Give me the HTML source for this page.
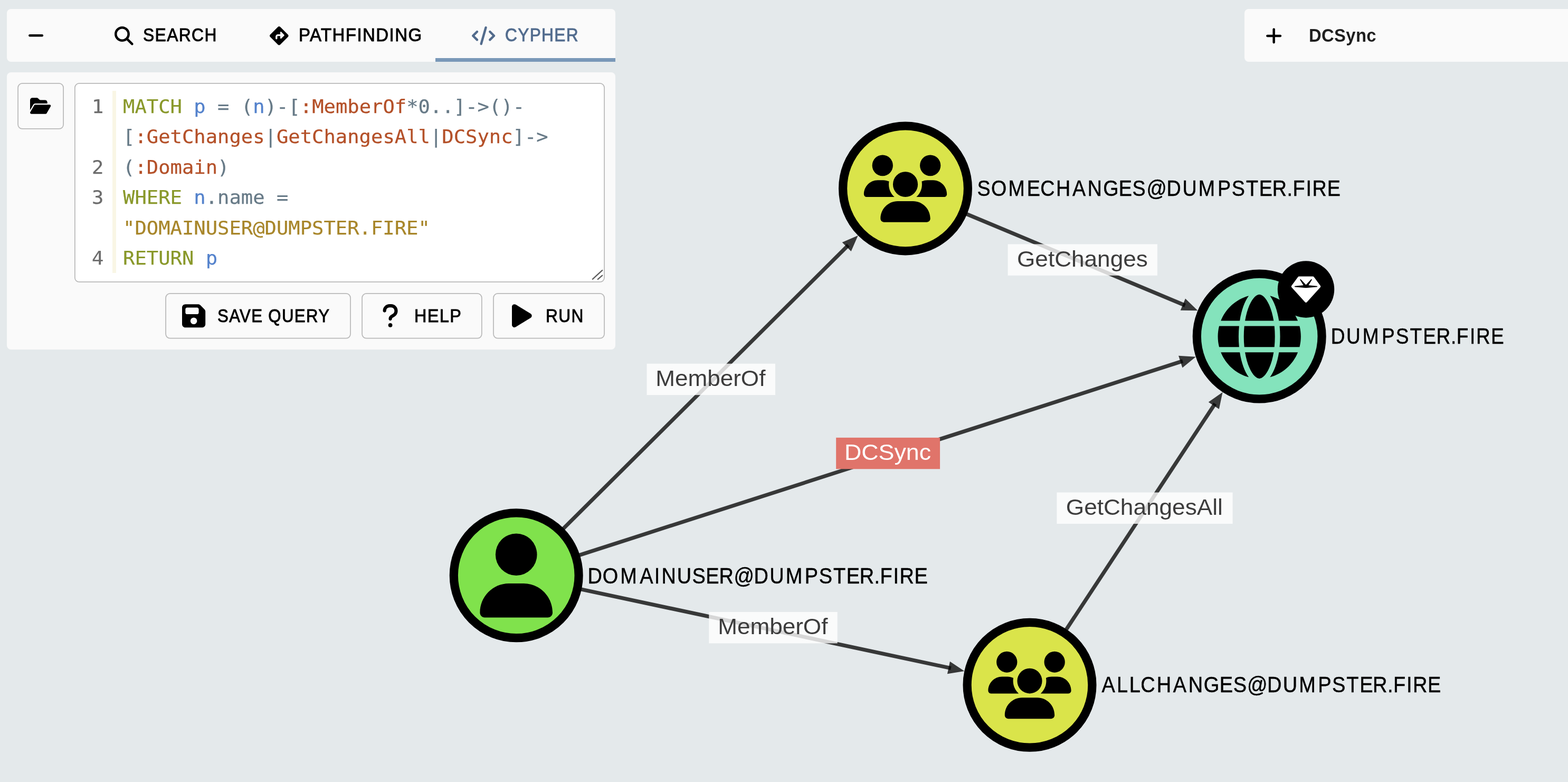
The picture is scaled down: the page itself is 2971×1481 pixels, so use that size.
<!DOCTYPE html>
<html lang="en">
<head>
<meta charset="utf-8">
<title>BloodHound - Explore</title>
<style>
*{box-sizing:border-box;margin:0;padding:0}
html,body{width:2971px;height:1481px;overflow:hidden;background:#e4e9eb}
body{position:relative;font-family:"Liberation Sans",Arial,sans-serif;color:#000}
#app{position:absolute;left:0;top:0;width:2971px;height:1481px;overflow:hidden;will-change:transform}
#graph{position:absolute;left:0;top:0}
#graph text.el{font-family:"Liberation Sans",Arial,sans-serif;font-size:42.2px}
#graph text.nl{font-family:"Liberation Sans",Arial,sans-serif;font-size:42.0px;fill:#000;stroke:#000;stroke-width:0.5px}
.panel{position:absolute;background:#fafafa;border-radius:8px}
.ic{position:absolute;display:block;overflow:visible}
#tabs{left:13px;top:17px;width:1153px;height:100px}
#indicator{position:absolute;left:825px;top:109.9px;width:341px;height:7.1px;background:#7998b8}
#query{left:13px;top:137px;width:1153px;height:525px}
#right{left:2358px;top:17px;width:640px;height:100px}
.btn,.edbox{position:absolute;border-radius:9px}
#chrome{position:absolute;left:0;top:0}
#strip{position:absolute;left:213.1px;top:172.0px;width:6.8px;height:344.8px;background:#f9f6e5}
.ln,.cl{position:absolute;height:57px;line-height:57px;font-family:"DejaVu Sans Mono","Liberation Mono",monospace;font-size:35.3px;white-space:pre;transform:scaleX(1.0531);-webkit-text-stroke:0.25px currentColor}
.ln{left:174.40px;color:#6c6c6c;transform-origin:0 50%}
.cl{left:233.10px;color:#677a87;transform-origin:0 50%}
.tk{color:#89982a}.tv{color:#5482cc}.tp{color:#677a87}.tl{color:#b45028}.ts{color:#a8862a}
.lbl{position:absolute;white-space:pre;font-size:34.8px;line-height:40px;height:40px;transform-origin:0 50%;letter-spacing:1.5px;-webkit-text-stroke:0.95px currentColor}
.bold{font-weight:700;-webkit-text-stroke:0;letter-spacing:0.4px}
</style>
</head>
<body>
<div id="app">
<svg id="graph" width="2971" height="1481" viewBox="0 0 2971 1481">
<g id="edges">
<line x1="978.20" y1="1089.80" x2="1607.34" y2="464.41" stroke="rgba(0,0,0,0.76)" stroke-width="7.2"/>
<polygon fill="rgba(0,0,0,0.76)" points="1625.78,446.08 1612.61,476.09 1595.69,459.07"/>
<line x1="1715.50" y1="356.90" x2="2245.49" y2="578.31" stroke="rgba(0,0,0,0.76)" stroke-width="7.2"/>
<polygon fill="rgba(0,0,0,0.76)" points="2269.48,588.34 2236.71,587.65 2245.96,565.51"/>
<line x1="978.20" y1="1089.80" x2="2241.02" y2="683.78" stroke="rgba(0,0,0,0.76)" stroke-width="7.2"/>
<polygon fill="rgba(0,0,0,0.76)" points="2265.77,675.82 2240.41,696.58 2233.06,673.73"/>
<line x1="978.20" y1="1089.80" x2="1801.86" y2="1265.49" stroke="rgba(0,0,0,0.76)" stroke-width="7.2"/>
<polygon fill="rgba(0,0,0,0.76)" points="1827.28,1270.91 1794.95,1276.28 1799.96,1252.81"/>
<line x1="1951.00" y1="1297.30" x2="2302.27" y2="764.43" stroke="rgba(0,0,0,0.76)" stroke-width="7.2"/>
<polygon fill="rgba(0,0,0,0.76)" points="2316.58,742.72 2309.81,774.79 2289.77,761.58"/>
</g>
<rect x="1225.55" y="688.75" width="243.40" height="59.4" fill="rgba(255,255,255,0.8)"/>
<text class="el" x="1242.20" y="731.20" textLength="208.21" lengthAdjust="spacingAndGlyphs" fill="#3c3c3c">MemberOf</text>
<rect x="1909.60" y="462.40" width="283.30" height="59.4" fill="rgba(255,255,255,0.8)"/>
<text class="el" x="1927.00" y="504.85" textLength="247.83" lengthAdjust="spacingAndGlyphs" fill="#3c3c3c">GetChanges</text>
<rect x="1584.15" y="828.85" width="196.90" height="59.4" fill="#e0746a"/>
<text class="el" x="1600.00" y="871.30" textLength="164.08" lengthAdjust="spacingAndGlyphs" fill="#ffffff">DCSync</text>
<rect x="1343.30" y="1158.95" width="243.40" height="59.4" fill="rgba(255,255,255,0.8)"/>
<text class="el" x="1360.20" y="1201.40" textLength="208.21" lengthAdjust="spacingAndGlyphs" fill="#3c3c3c">MemberOf</text>
<rect x="2002.45" y="932.60" width="333.10" height="59.4" fill="rgba(255,255,255,0.8)"/>
<text class="el" x="2019.80" y="975.05" textLength="297.03" lengthAdjust="spacingAndGlyphs" fill="#3c3c3c">GetChangesAll</text>
<circle cx="978.2" cy="1089.8" r="118.40" fill="#80e24c" stroke="#000" stroke-width="16.20"/>
<path fill="#000" transform="translate(909.38 1010.41) scale(0.30723 0.31091)" d="M224 256A128 128 0 1 0 224 0a128 128 0 1 0 0 256zm-45.7 48C79.8 304 0 383.8 0 482.3C0 498.7 13.3 512 29.7 512H418.3c16.4 0 29.7-13.3 29.7-29.7C448 383.8 368.2 304 269.7 304H178.3z"/>
<text class="nl" id="nl_U" transform="scale(0.9025 1)" x="1233.86 1265.00 1302.16 1343.20 1373.82 1388.87 1421.39 1453.14 1481.73 1509.68 1540.83 1582.82 1615.90 1649.57 1689.61 1719.27 1749.48 1777.04 1804.60 1835.43 1847.68 1875.46 1888.60 1919.73" y="1105.00">DOMAINUSER@DUMPSTER.FIRE</text>
<circle cx="1715.5" cy="356.9" r="118.40" fill="#dae44a" stroke="#000" stroke-width="16.20"/>
<path fill="#000" transform="translate(1636.88 293.45) scale(0.24570 0.24865)" d="M144 0a80 80 0 1 1 0 160A80 80 0 1 1 144 0zM512 0a80 80 0 1 1 0 160A80 80 0 1 1 512 0zM0 298.700C0 239.800 47.800 192 106.700 192h42.700c15.900 0 31 3.500 44.600 9.700c-1.300 7.200-1.900 14.700-1.900 22.300c0 38.200 16.800 72.500 43.300 96c-.2 0-.4 0-.7 0H21.300C9.600 320 0 310.400 0 298.700zM405.300 320c-.2 0-.4 0-.7 0c26.600-23.500 43.300-57.800 43.300-96c0-7.600-.7-15-1.900-22.300c13.600-6.300 28.700-9.700 44.600-9.700h42.700C592.200 192 640 239.800 640 298.700c0 11.800-9.600 21.300-21.300 21.300H405.300zM224 224a96 96 0 1 1 192 0 96 96 0 1 1 -192 0zM128 485.300C128 411.700 187.700 352 261.300 352H378.700C452.300 352 512 411.700 512 485.300c0 14.700-11.900 26.700-26.700 26.700H154.700c-14.700 0-26.700-11.900-26.700-26.700z"/>
<text class="nl" id="nl_S" transform="scale(0.8966 1)" x="2065.09 2094.56 2130.79 2170.09 2198.71 2231.70 2266.38 2298.33 2331.19 2364.14 2393.03 2422.98 2465.51 2498.81 2532.72 2573.00 2602.85 2633.25 2661.01 2688.76 2719.72 2732.11 2760.02 2773.32 2804.64" y="371.20">SOMECHANGES@DUMPSTER.FIRE</text>
<circle cx="2386.2" cy="637.1" r="118.40" fill="#84e3bc" stroke="#000" stroke-width="16.20"/>
<path fill="#000" transform="translate(2307.55 557.71) scale(0.30723 0.31091)" d="M352 256c0 22.200-1.200 43.600-3.300 64H163.300c-2.200-20.400-3.300-41.800-3.300-64s1.200-43.600 3.300-64H348.700c2.200 20.400 3.300 41.800 3.300 64zm28.800-64H503.900c5.300 20.500 8.100 41.900 8.100 64s-2.800 43.500-8.100 64H380.800c2.100-20.600 3.200-42 3.200-64s-1.100-43.400-3.200-64zm112.600-32H376.700c-10-63.900-29.800-117.400-55.300-151.600c78.300 20.700 142 77.500 171.900 151.600zm-149.100 0H167.700c6.100-36.400 15.500-68.600 27-94.700c10.500-23.600 22.200-40.700 33.500-51.500C239.400 3.200 248.700 0 256 0s16.600 3.200 27.800 13.800c11.300 10.800 23 27.900 33.500 51.500c11.600 26 20.900 58.200 27 94.700zm-209 0H18.600C48.600 85.900 112.200 29.100 190.600 8.400C165.100 42.600 145.300 96.100 135.300 160zM8.100 192H131.200c-2.100 20.600-3.200 42-3.200 64s1.100 43.400 3.200 64H8.100C2.800 299.500 0 278.100 0 256s2.800-43.500 8.100-64zM194.700 446.600c-11.600-26-20.900-58.200-27-94.600H344.300c-6.100 36.400-15.500 68.600-27 94.600c-10.500 23.600-22.200 40.700-33.500 51.500C272.600 508.800 263.300 512 256 512s-16.600-3.200-27.800-13.800c-11.300-10.800-23-27.900-33.500-51.500zM135.300 352c10 63.900 29.800 117.400 55.300 151.600C112.200 482.900 48.600 426.100 18.600 352H135.300zm358.100 0c-30 74.100-93.600 130.900-171.900 151.600c25.500-34.200 45.200-87.700 55.300-151.600H493.400z"/>
<text class="nl" id="nl_D" transform="scale(0.8805 1)" x="2863.86 2897.27 2932.24 2973.20 3003.59 3034.13 3062.28 3090.95 3122.06 3134.42 3162.93 3176.66 3208.30" y="651.20">DUMPSTER.FIRE</text>
<circle cx="1951.0" cy="1297.3" r="118.40" fill="#dae44a" stroke="#000" stroke-width="16.20"/>
<path fill="#000" transform="translate(1872.38 1233.85) scale(0.24570 0.24865)" d="M144 0a80 80 0 1 1 0 160A80 80 0 1 1 144 0zM512 0a80 80 0 1 1 0 160A80 80 0 1 1 512 0zM0 298.700C0 239.800 47.800 192 106.700 192h42.700c15.900 0 31 3.500 44.600 9.700c-1.300 7.200-1.900 14.700-1.900 22.300c0 38.200 16.800 72.500 43.300 96c-.2 0-.4 0-.7 0H21.300C9.600 320 0 310.400 0 298.700zM405.300 320c-.2 0-.4 0-.7 0c26.600-23.500 43.300-57.800 43.300-96c0-7.600-.7-15-1.900-22.300c13.600-6.300 28.700-9.700 44.600-9.700h42.700C592.200 192 640 239.800 640 298.700c0 11.800-9.600 21.300-21.300 21.300H405.300zM224 224a96 96 0 1 1 192 0 96 96 0 1 1 -192 0zM128 485.300C128 411.700 187.700 352 261.300 352H378.700C452.300 352 512 411.700 512 485.300c0 14.700-11.900 26.700-26.700 26.700H154.700c-14.700 0-26.700-11.900-26.700-26.700z"/>
<text class="nl" id="nl_A" transform="scale(0.9043 1)" x="2308.47 2340.06 2366.33 2390.11 2423.59 2458.06 2490.04 2522.23 2555.30 2583.94 2613.10 2655.02 2688.04 2721.64 2761.60 2791.20 2821.36 2848.86 2876.36 2907.15 2919.37 2947.10 2960.20 2991.27" y="1311.50">ALLCHANGES@DUMPSTER.FIRE</text>
<circle cx="2474.5" cy="548.0" r="53.7" fill="#000"/>
<path fill="#fff" transform="translate(2446.75 520.85) scale(0.10840 0.10840)" d="M116.700 33.800c4.500-6.100 11.600-9.800 19.300-9.800H376c7.600 0 14.800 3.600 19.300 9.800l112 152c6.800 9.200 6.100 21.900-1.500 30.400l-232 256c-4.500 5-11 7.900-17.800 7.900s-13.200-2.900-17.800-7.900l-232-256c-7.700-8.500-8.300-21.200-1.500-30.400l112-152zm38.500 39.800c-3.300 2.500-4.200 7-2.100 10.500l57.400 95.600L63.300 192c-4.100 .3-7.300 3.800-7.300 8s3.200 7.600 7.300 8l192 16c.4 0 .9 0 1.300 0l192-16c4.100-.3 7.300-3.800 7.300-8s-3.200-7.600-7.300-8L301.500 179.800l57.400-95.600c2.100-3.500 1.200-8.100-2.100-10.500s-7.900-2-10.700 1L256 172.200 165.900 74.600c-2.800-3-7.400-3.400-10.700-1z"/>
</svg>
<div class="panel" id="tabs"></div>
<div id="indicator"></div>
<svg class="ic" style="left:53.11px;top:50.25px;width:30.19px;height:34.50px" viewBox="0 0 448 512" aria-hidden="true"><path fill="#000" d="M432 256c0 17.700-14.300 32-32 32L48 288c-17.700 0-32-14.300-32-32s14.300-32 32-32l352 0c17.700 0 32 14.300 32 32z"/></svg>
<svg class="ic" style="left:216.70px;top:49.60px;width:35.60px;height:35.60px" viewBox="0 0 512 512" aria-hidden="true"><path fill="#000" d="M416 208c0 45.900-14.900 88.300-40 122.700L502.600 457.400c12.500 12.500 12.500 32.800 0 45.300s-32.800 12.500-45.300 0L330.700 376c-34.400 25.200-76.800 40-122.700 40C93.100 416 0 322.900 0 208S93.100 0 208 0S416 93.100 416 208zM208 352a144 144 0 1 0 0-288 144 144 0 1 0 0 288z"/></svg>
<span class="lbl" id="l_search" style="left:271.30px;top:45.00px;font-size:34.40px;color:#000;transform:translateY(0.60px) scaleX(0.9238)">SEARCH</span>
<svg class="ic" style="left:510.80px;top:49.70px;width:35.60px;height:35.60px" viewBox="0 0 512 512" aria-hidden="true"><path fill="#000" d="M227.700 11.700c15.600-15.600 40.900-15.600 56.600 0l216 216c15.600 15.600 15.600 40.900 0 56.600l-216 216c-15.600 15.600-40.900 15.600-56.600 0l-216-216c-15.600-15.600-15.600-40.900 0-56.600l216-216zm87.600 137c-4.600-4.600-11.500-5.900-17.400-3.500s-9.900 8.300-9.900 14.800v56H224c-35.300 0-64 28.700-64 64v48c0 13.300 10.700 24 24 24s24-10.700 24-24V280c0-8.800 7.200-16 16-16h64v56c0 6.500 3.900 12.300 9.900 14.800s12.900 1.100 17.400-3.500l80-80c6.200-6.200 6.200-16.400 0-22.600l-80-80z"/></svg>
<span class="lbl" id="l_path" style="left:565.88px;top:45.00px;font-size:34.40px;color:#000;transform:translateY(0.60px) scaleX(0.9591)">PATHFINDING</span>
<svg class="ic" style="left:893.88px;top:49.50px;width:44.25px;height:35.40px" viewBox="0 0 640 512" aria-hidden="true"><path fill="#526b8c" d="M392.800 1.200c-17-4.900-34.700 5-39.600 22l-128 448c-4.900 17 5 34.700 22 39.600s34.700-5 39.600-22l128-448c4.900-17-5-34.700-22-39.600zm80.600 120.100c-12.500 12.500-12.500 32.800 0 45.300L562.700 256l-89.400 89.400c-12.500 12.500-12.500 32.800 0 45.300s32.800 12.500 45.300 0l112-112c12.500-12.500 12.500-32.800 0-45.300l-112-112c-12.500-12.500-32.800-12.500-45.300 0zm-306.700 0c-12.500-12.500-32.800-12.500-45.300 0l-112 112c-12.500 12.500-12.500 32.800 0 45.300l112 112c12.500 12.500 32.800 12.500 45.300 0s12.500-32.800 0-45.300L77.300 256l89.400-89.400c12.500-12.500 12.500-32.800 0-45.300z"/></svg>
<span class="lbl" id="l_cypher" style="left:957.46px;top:45.00px;font-size:34.40px;color:#526c8e;transform:translateY(0.60px) scaleX(0.9188)">CYPHER</span>

<div class="panel" id="query"></div>
<svg id="chrome" width="1200" height="700" viewBox="0 0 1200 700">
<rect x="34.075" y="157.975" width="86.050" height="85.950" rx="8.12" fill="#fafafa" stroke="#b9b9b9" stroke-width="1.75"/>
<rect x="141.875" y="157.975" width="1003.150" height="375.950" rx="8.12" fill="#ffffff" stroke="#b9b9b9" stroke-width="1.75"/>
<rect x="314.075" y="555.975" width="349.950" height="84.750" rx="8.12" fill="#fafafa" stroke="#b9b9b9" stroke-width="1.75"/>
<rect x="686.075" y="555.975" width="226.750" height="84.750" rx="8.12" fill="#fafafa" stroke="#b9b9b9" stroke-width="1.75"/>
<rect x="934.975" y="555.975" width="210.050" height="84.750" rx="8.12" fill="#fafafa" stroke="#b9b9b9" stroke-width="1.75"/>
<path d="M1122.9 528.7 L1141.2 511.9 M1132.8 528.9 L1141.2 521.6" stroke="#5e5e5e" stroke-width="2.3" stroke-linecap="round" fill="none"/>
</svg>
<div class="btn" id="folderbtn" style="left:33.20px;top:157.10px;width:87.80px;height:87.70px"></div>
<svg class="ic" style="left:56.92px;top:183.05px;width:39.26px;height:34.90px" viewBox="0 0 576 512" aria-hidden="true"><path fill="#000" d="M88.700 223.800L0 375.800V96C0 60.700 28.700 32 64 32H181.500c17 0 33.300 6.700 45.300 18.700l26.500 26.500c12 12 28.300 18.700 45.300 18.700H416c35.300 0 64 28.700 64 64v32H144c-22.800 0-43.800 12.100-55.300 31.800zm27.600 16.100C122.100 230 132.600 224 144 224H544c11.500 0 22 6.100 27.700 16.100s5.700 22.200-.1 32.100l-112 192C453.900 474 443.400 480 432 480H32c-11.500 0-22-6.100-27.700-16.100s-5.700-22.200 .1-32.100l112-192z"/></svg>
<div class="edbox" id="editor" style="left:141.00px;top:157.10px;width:1004.90px;height:377.70px"></div>
<div id="strip"></div>
<div class="ln" style="top:173px">1</div>
<div class="cl" style="top:173px"><span class="tk">MATCH</span> <span class="tv">p</span> <span class="tp">=</span> <span class="tp">(</span><span class="tv">n</span><span class="tp">)-[</span><span class="tl">:MemberOf</span><span class="tp">*0..]-&gt;()-</span></div>
<div class="cl" style="top:230px"><span class="tp">[</span><span class="tl">:GetChanges</span><span class="tp">|</span><span class="tl">GetChangesAll</span><span class="tp">|</span><span class="tl">DCSync</span><span class="tp">]-&gt;</span></div>
<div class="ln" style="top:288px">2</div>
<div class="cl" style="top:288px"><span class="tp">(</span><span class="tl">:Domain</span><span class="tp">)</span></div>
<div class="ln" style="top:345px">3</div>
<div class="cl" style="top:345px"><span class="tk">WHERE</span> <span class="tv">n</span><span class="tp">.name</span> <span class="tp">=</span></div>
<div class="cl" style="top:403px"><span class="ts">"DOMAINUSER@DUMPSTER.FIRE"</span></div>
<div class="ln" style="top:460px">4</div>
<div class="cl" style="top:460px"><span class="tk">RETURN</span> <span class="tv">p</span></div>

<div class="btn" id="savebtn" style="left:313.20px;top:555.10px;width:351.70px;height:86.50px"></div>
<svg class="ic" style="left:345.11px;top:572.75px;width:44.19px;height:50.50px" viewBox="0 0 448 512" aria-hidden="true"><path fill="#000" d="M64 32C28.700 32 0 60.700 0 96V416c0 35.300 28.700 64 64 64H384c35.300 0 64-28.700 64-64V173.300c0-17-6.700-33.300-18.700-45.300L352 50.700C340 38.700 323.700 32 306.700 32H64zm0 96c0-17.700 14.300-32 32-32H288c17.700 0 32 14.300 32 32v64c0 17.700-14.300 32-32 32H96c-17.700 0-32-14.300-32-32V128zM224 288a64 64 0 1 1 0 128 64 64 0 1 1 0-128z"/></svg>
<span class="lbl" id="l_save" style="left:412.13px;top:577.00px;font-size:34.40px;color:#000;transform:translateY(0.60px) scaleX(0.9065)">SAVE QUERY</span>
<div class="btn" id="helpbtn" style="left:685.20px;top:555.10px;width:228.50px;height:86.50px"></div>
<svg class="ic" style="left:724.44px;top:573.10px;width:31.12px;height:49.80px" viewBox="0 0 320 512" aria-hidden="true"><path fill="#000" d="M80 160c0-35.300 28.700-64 64-64h32c35.300 0 64 28.700 64 64v3.600c0 21.800-11.100 42.100-29.400 53.800l-42.200 27.100c-25.200 16.200-40.400 44.100-40.400 74V320c0 17.700 14.300 32 32 32s32-14.300 32-32v-1.400c0-8.200 4.200-15.800 11-20.200l42.200-27.100c36.600-23.600 58.800-64.100 58.800-107.700V160c0-70.700-57.300-128-128-128H144C73.300 32 16 89.300 16 160c0 17.700 14.300 32 32 32s32-14.300 32-32zm80 320a40 40 0 1 0 0-80 40 40 0 1 0 0 80z"/></svg>
<span class="lbl" id="l_help" style="left:784.84px;top:577.00px;font-size:34.40px;color:#000;transform:translateY(0.60px) scaleX(0.9425)">HELP</span>
<div class="btn" id="runbtn" style="left:934.10px;top:555.10px;width:211.80px;height:86.50px"></div>
<svg class="ic" style="left:969.88px;top:573.10px;width:37.65px;height:50.20px" viewBox="0 0 384 512" aria-hidden="true"><path fill="#000" d="M73 39c-14.800-9.100-33.400-9.400-48.500-.9S0 62.600 0 80V432c0 17.400 9.400 33.400 24.500 41.900s33.700 8.100 48.500-.9L361 297c14.300-8.700 23-24.200 23-41s-8.700-32.200-23-41L73 39z"/></svg>
<span class="lbl" id="l_run" style="left:1033.70px;top:577.00px;font-size:34.40px;color:#000;transform:translateY(0.60px) scaleX(0.9201)">RUN</span>

<div class="panel" id="right"></div>
<svg class="ic" style="left:2397.54px;top:49.60px;width:31.32px;height:35.80px" viewBox="0 0 448 512" aria-hidden="true"><path fill="#000" d="M256 80c0-17.700-14.300-32-32-32s-32 14.300-32 32V224H48c-17.700 0-32 14.300-32 32s14.300 32 32 32H192V432c0 17.700 14.300 32 32 32s32-14.300 32-32V288H400c17.700 0 32-14.300 32-32s-14.300-32-32-32H256V80z"/></svg>
<span class="lbl bold" id="l_dcsync" style="left:2480.20px;top:47.00px;font-size:35.60px;color:#1f1f1f;transform:translateY(0.00px) scaleX(0.9215)">DCSync</span>
</div>
</body>
</html>
